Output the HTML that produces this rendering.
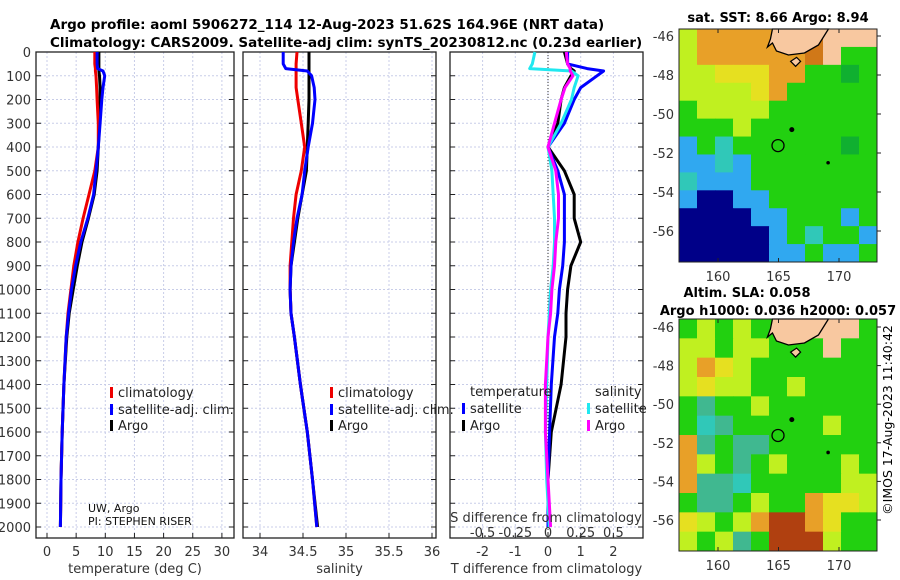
<!DOCTYPE html>
<html><head><meta charset="utf-8"><style>
body{margin:0;background:#fff;}
svg{display:block;font-family:"DejaVu Sans","Liberation Sans",sans-serif;}
</style></head><body>
<svg id="fig" width="900" height="580" viewBox="0 0 900 580" xmlns="http://www.w3.org/2000/svg">
<text x="50" y="29" font-size="13.5" font-weight="bold">Argo profile: aoml 5906272_114 12-Aug-2023 51.62S 164.96E (NRT data)</text>
<text x="50" y="47" font-size="13.5" font-weight="bold">Climatology: CARS2009. Satellite-adj clim: synTS_20230812.nc (0.23d earlier)</text>
<text x="778" y="22" font-size="13" font-weight="bold" text-anchor="middle">sat. SST: 8.66 Argo: 8.94</text>
<text x="747" y="297" font-size="13" font-weight="bold" text-anchor="middle">Altim. SLA: 0.058</text>
<text x="778" y="315" font-size="13" font-weight="bold" text-anchor="middle">Argo h1000: 0.036 h2000: 0.057</text>
<text transform="translate(892,420) rotate(-90)" font-size="12.5" text-anchor="middle">©IMOS 17-Aug-2023 11:40:42</text>
<g id="g"></g>
</svg>
<script>
// ---- data ----
const depth = [0,50,70,80,100,150,200,300,400,500,600,700,800,900,1000,1100,1200,1400,1600,1800,2000];
const tClim = [8.2,8.2,8.3,8.3,8.4,8.5,8.6,8.8,8.8,8.2,7.2,6.2,5.3,4.6,4.1,3.6,3.3,2.9,2.6,2.4,2.3];
const tSat  = [8.6,8.6,8.7,9.6,9.9,9.6,9.4,9.1,8.8,8.4,8.0,7.0,5.8,4.9,4.2,3.7,3.3,2.9,2.6,2.4,2.3];
const tArgo = [8.9,8.9,8.9,8.9,9.0,9.1,9.1,9.0,8.8,8.6,8.1,7.1,6.0,5.2,4.5,3.8,3.4,2.9,2.6,2.4,2.3];
const sClim = [34.43,34.42,34.42,34.42,34.42,34.42,34.44,34.48,34.52,34.48,34.42,34.39,34.37,34.35,34.35,34.36,34.40,34.47,34.55,34.61,34.66];
const sSat  = [34.27,34.27,34.30,34.55,34.60,34.63,34.64,34.61,34.56,34.52,34.49,34.43,34.39,34.36,34.35,34.36,34.40,34.47,34.55,34.61,34.66];
const sArgo = [34.57,34.57,34.57,34.57,34.57,34.57,34.57,34.56,34.55,34.54,34.49,34.44,34.40,34.36,34.35,34.36,34.40,34.47,34.55,34.61,34.67];
const dTSat  = [0.6,0.6,1.2,1.7,1.5,1.0,0.8,0.5,0.0,0.3,0.5,0.5,0.5,0.45,0.35,0.3,0.2,0.1,0.05,0.0,0.0];
const dTArgo = [0.5,0.6,0.7,0.8,0.7,0.5,0.4,0.3,0.0,0.5,0.8,0.8,1.0,0.7,0.6,0.55,0.55,0.4,0.1,0.0,0.0];
const dSSat  = [-0.1,-0.12,-0.14,0.18,0.23,0.2,0.18,0.1,0.0,0.03,0.04,0.05,0.05,0.04,0.02,0.01,0.0,-0.01,-0.02,-0.01,0.01];
const dSArgo = [0.14,0.15,0.17,0.17,0.19,0.13,0.1,0.05,0.0,0.06,0.08,0.08,0.06,0.05,0.03,0.02,0.0,-0.02,-0.02,0.0,0.02];
const tTicks = [0,5,10,15,20,25,30];
const sTicks = [34,34.5,35,35.5,36];
const sTickLbl = ["34","34.5","35","35.5","36"];
const dTTicks = [-2,-1,0,1,2];
const dSTicks = [-0.5,-0.25,0,0.25,0.5];
const dSTickLbl = ["-0.5","-0.25","0","0.25","0.5"];
const depthTicks = [0,100,200,300,400,500,600,700,800,900,1000,1100,1200,1300,1400,1500,1600,1700,1800,1900,2000];
const lonTicks = [160,165,170];
const latTicks = [-46,-48,-50,-52,-54,-56];
const sstGrid = ["YoooooOOlll","YooooooOlgg","YYyyyooggGg","YYYYyoggggg","gYYYYgggggg","gggYggggggg","bgcggggggGg","bbcbggggggg","cbbbggggggg","bnnbbgggggg","nnnnbbgggbg","nnnnnbgcggb","nnnnnbbgbbg"];
const slaGrid = ["gYgYggglllg","YYgYYggglgg","YoyYggggggg","YyYYggYgggg","gtggYgggggg","gctgggggYgg","otgttgggggg","oYgtgYgggYg","ottcgggggYY","gttgYggoyyY","yYgYorroygg","YgYtgrrrYgg"];
const floatLon = 164.96, floatLat = -51.62;

// ---- drawing ----
const NS="http://www.w3.org/2000/svg", G=document.getElementById('g');
function mk(t,a,p){const e=document.createElementNS(NS,t);for(const k in a)e.setAttribute(k,a[k]);(p||G).appendChild(e);return e;}
const y0=52, yk=0.2375, yTop=52, yBot=538;
const yD=d=>y0+d*yk;
const panels=[
 {L:36,R:234,f:v=>47+v*5.83,name:'temperature'},
 {L:243,R:436,f:v=>260+(v-34)*86,name:'salinity'},
 {L:450,R:643,f:v=>548+v*32.7,name:'t-difference'}];
const fS=v=>548+v*130.8;
function axisFrame(p,ticks,labs,xlabel){
  const g=mk('g',{});
  
  
  ticks.forEach(t=>{const x=p.f(t);
    mk('line',{x1:x,x2:x,y1:yTop,y2:yBot,stroke:'#c8cde8','stroke-dasharray':'2,2','stroke-width':1},g);
    mk('line',{x1:x,x2:x,y1:yBot,y2:yBot-5,stroke:'#222'},g);
  });
  depthTicks.forEach(d=>{const y=yD(d);
    mk('line',{x1:p.L,x2:p.R,y1:y,y2:y,stroke:'#c8cde8','stroke-dasharray':'2,2'},g);
    mk('line',{x1:p.L,x2:p.L+5,y1:y,y2:y,stroke:'#222'},g);
    mk('line',{x1:p.R,x2:p.R-5,y1:y,y2:y,stroke:'#222'},g);
  });
  mk('rect',{x:p.L,y:yTop,width:p.R-p.L,height:yBot-yTop,fill:'none',stroke:'#222','stroke-width':1.3},g);
  ticks.forEach((t,i)=>{const tx=mk('text',{x:p.f(t),y:556,'font-size':13,'text-anchor':'middle',fill:'#333'},g);tx.textContent=labs[i];});
  const xl=mk('text',{x:(p.L+p.R)/2,y:573,'font-size':13,'text-anchor':'middle',fill:'#333'},g);xl.textContent=xlabel;
  return g;
}
axisFrame(panels[0],tTicks,tTicks.map(String),'temperature (deg C)');
axisFrame(panels[1],sTicks,sTickLbl,'salinity');
axisFrame(panels[2],dTTicks,dTTicks.map(String),'T difference from climatology');
depthTicks.forEach(d=>{const t=mk('text',{x:31,y:yD(d)+5,'font-size':13,'text-anchor':'end',fill:'#333'});
  
  
  t.textContent=String(d);});
mk('line',{x1:fS(0),x2:fS(0),y1:yTop,y2:yBot,stroke:'#333','stroke-dasharray':'1,2'});
function line(f,vals,col,name,w){const pts=vals.map((v,i)=>f(v).toFixed(1)+','+yD(depth[i]).toFixed(1)).join(' ');
  const e=mk('polyline',{points:pts,fill:'none',stroke:col,'stroke-width':w||3,'stroke-linejoin':'round'});
  
  }
const pT=panels[0].f, pS=panels[1].f, pD=panels[2].f;
line(pT,tArgo,'#000','temp-argo-line');line(pT,tClim,'#e00','temp-climatology-line');line(pT,tSat,'#00f','temp-satellite-line');
line(pS,sArgo,'#000','sal-argo-line');line(pS,sClim,'#e00','sal-climatology-line');line(pS,sSat,'#00f','sal-satellite-line');
line(pD,dTArgo,'#000','tdiff-argo-line');line(pD,dTSat,'#00f','tdiff-satellite-line');
line(fS,dSSat,'#20e8f0','sdiff-satellite-line');line(fS,dSArgo,'#f0f','sdiff-argo-line');
const sd=mk('text',{x:546,y:522,'font-size':13,'text-anchor':'middle',fill:'#333'});sd.textContent='S difference from climatology';


dSTicks.forEach((v,i)=>{const t=mk('text',{x:fS(v),y:537,'font-size':13,'text-anchor':'middle',fill:'#333'});t.textContent=dSTickLbl[i];});
function leg(x,y,col,txt,name){mk('rect',{x:x,y:y-10,width:3,height:11,fill:col});const t=mk('text',{x:x+8,y:y,'font-size':13,fill:'#222'});t.textContent=txt;
  
  }
[[110,'temp'],[330,'sal']].forEach(([x,n])=>{leg(x,397,'#e00','climatology',n+'-legend-climatology');leg(x,414,'#00f','satellite-adj. clim.',n+'-legend-satellite');leg(x,430,'#000','Argo',n+'-legend-argo');});
let tt=mk('text',{x:470,y:396,'font-size':13,fill:'#222'});tt.textContent='temperature';
tt=mk('text',{x:595,y:396,'font-size':13,fill:'#222'});tt.textContent='salinity';
leg(462,413,'#00f','satellite','tdiff-legend-satellite');leg(462,430,'#000','Argo','tdiff-legend-argo');
leg(587,413,'#20e8f0','satellite','sdiff-legend-satellite');leg(587,430,'#f0f','Argo','sdiff-legend-argo');
tt=mk('text',{x:88,y:512,'font-size':11,fill:'#111'});tt.textContent='UW, Argo';
tt=mk('text',{x:88,y:525,'font-size':11,fill:'#111'});tt.textContent='PI: STEPHEN RISER';
const cols={o:'#e8a028',O:'#d07818',y:'#e6e020',Y:'#c0f020',g:'#22d010',G:'#10b030',c:'#30c8b8',b:'#30a8f0',n:'#000088',l:'#f8c8a0',t:'#40b890',r:'#b04010'};
function map(grid,MT,MB,name,lat46,lat56){
  const L=679,R=877;const gm=mk('g',{});
  
  
  const rows=grid.length,cw=(R-L)/grid[0].length,ch=(MB-MT)/rows;
  grid.forEach((row,r)=>[...row].forEach((c,k)=>{mk('rect',{x:L+k*cw,y:MT+r*ch,width:cw+0.5,height:ch+0.5,fill:cols[c]},gm);}));
  const lx=v=>718+(v-160)*12.1, ly=v=>lat46+(-46-v)*(lat56-lat46)/10;
  mk('path',{d:`M${lx(164.5)},${MT} l-2,10 l-3,8 l5,-4 l4,8 l12,4 l16,-2 l14,-8 l10,-16 z`,fill:cols.l,stroke:'#000','stroke-width':1.3},gm);
  mk('path',{d:`M${lx(166)},${ly(-47.3)} l6,-4 l4,4 l-5,5 z`,fill:cols.l,stroke:'#000','stroke-width':1.2},gm);
  mk('circle',{cx:lx(floatLon),cy:ly(floatLat),r:6,fill:'none',stroke:'#000','stroke-width':1.3},gm);
  mk('circle',{cx:lx(166.1),cy:ly(-50.8),r:2.5,fill:'#000'},gm);
  mk('circle',{cx:lx(169.1),cy:ly(-52.5),r:1.8,fill:'#000'},gm);
  mk('rect',{x:L,y:MT,width:R-L,height:MB-MT,fill:'none',stroke:'#222'},gm);
  lonTicks.forEach(v=>{const t=mk('text',{x:lx(v),y:MB+19,'font-size':13,'text-anchor':'middle',fill:'#333'},gm);t.textContent=v;
    mk('line',{x1:lx(v),x2:lx(v),y1:MB,y2:MB-4,stroke:'#222'},gm);
    mk('line',{x1:lx(v),x2:lx(v),y1:MT,y2:MT+4,stroke:'#222'},gm);});
  latTicks.forEach(v=>{const t=mk('text',{x:674,y:ly(v)+5,'font-size':13,'text-anchor':'end',fill:'#333'},gm);t.textContent=v;
    mk('line',{x1:R,x2:R+4,y1:ly(v),y2:ly(v),stroke:'#222'},gm);});
}
map(sstGrid,29,262,'sst-map',36,231);
map(slaGrid,319,551,'sla-map',327,520);
</script>
</body></html>
